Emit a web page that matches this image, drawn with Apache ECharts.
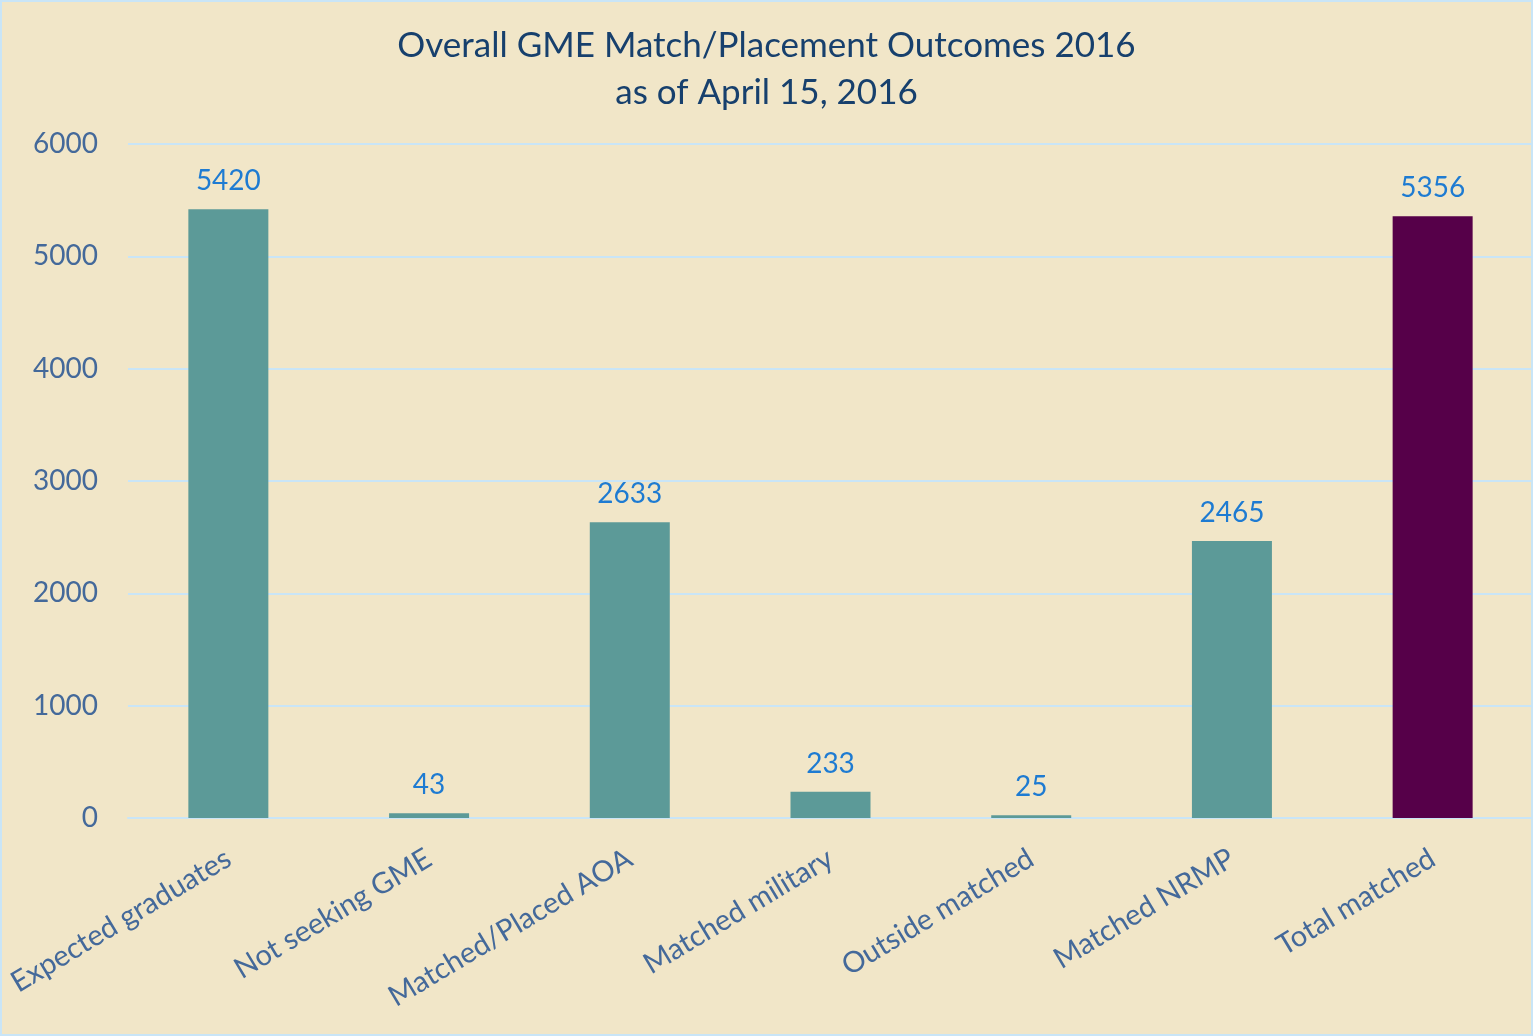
<!DOCTYPE html>
<html><head><meta charset="utf-8">
<script src="https://cdn.jsdelivr.net/npm/echarts@6/dist/echarts.min.js"></script>
<style>html,body{margin:0;padding:0;background:#F1E6C8;}#c{width:1533px;height:1036px;}</style>
</head><body><div id="c"></div>
<script>
const categories = ['Expected graduates','Not seeking GME','Matched/Placed AOA','Matched military','Outside matched','Matched NRMP','Total matched'];
const values = [5420, 43, 2633, 233, 25, 2465, 5356];
const barColors = ['#5C9A98','#5C9A98','#5C9A98','#5C9A98','#5C9A98','#5C9A98','#560049'];
const titleLines = ['Overall GME Match/Placement Outcomes 2016','as of April 15, 2016'];

const chart = echarts.init(document.getElementById('c'));
chart.setOption({
  backgroundColor: '#F1E6C8',
  animation: false,
  textStyle: {fontFamily: 'Lato'},
  title: {
    text: titleLines.join('\n'),
    left: 'center', top: 17,
    textStyle: {fontFamily: 'Lato', fontSize: 35, fontWeight: 'normal', color: '#17406D', lineHeight: 47}
  },
  graphic: [{type:'rect', shape:{x:1,y:1,width:1531,height:1034}, style:{fill:'none', stroke:'#C9E5F7', lineWidth:2}, silent:true}],
  grid: {left: 128, right: 0, top: 144, bottom: 218, containLabel: false},
  xAxis: {
    type: 'category', data: categories,
    axisLine: {show: true, lineStyle: {color: '#C9E5F7', width: 2}},
    axisTick: {show: false},
    axisLabel: {rotate: 31, margin: 38, fontSize: 29, color: '#44699A', fontFamily: 'Lato', interval: 0}
  },
  yAxis: {
    type: 'value', min: 0, max: 6000, interval: 1000,
    axisLine: {show: false}, axisTick: {show: false},
    splitLine: {lineStyle: {color: '#C9E5F7', width: 2}},
    axisLabel: {fontSize: 28, color: '#44699A', margin: 30, fontFamily: 'Lato', formatter: v => String(v)}
  },
  series: [{
    type: 'bar', barWidth: 80,
    data: values.map((v,i)=>({value:v, itemStyle:{color:barColors[i]}})),
    label: {show: true, position: 'top', distance: 14, fontSize: 28, color: '#1E7BD2', fontFamily: 'Lato'}
  }]
});
</script></body></html>
